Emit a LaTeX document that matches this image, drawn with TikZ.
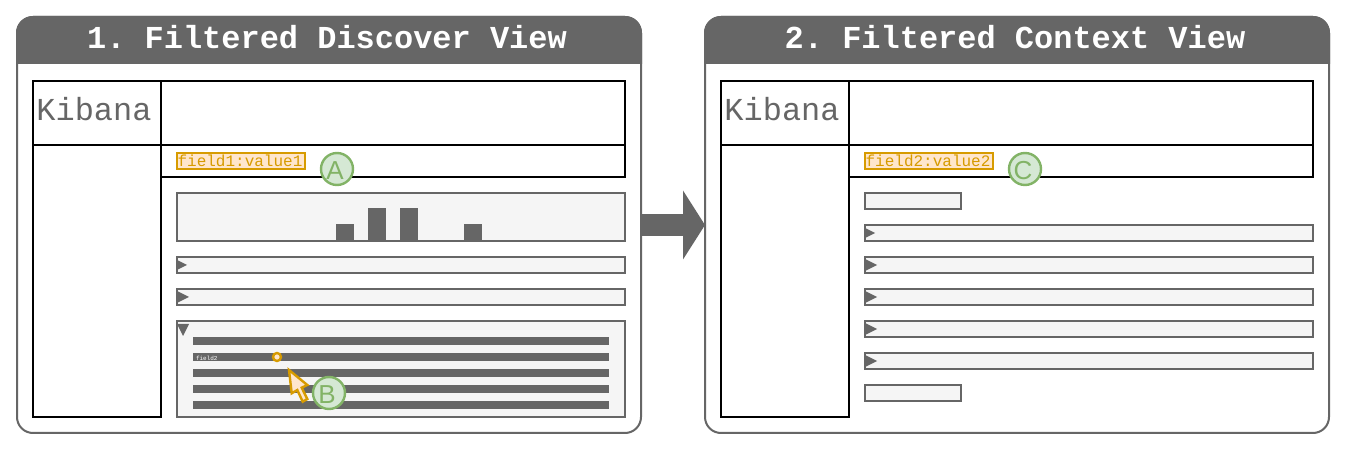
\documentclass[tikz,border=0pt]{standalone}
\usepackage{fontspec}
\setmonofont{Liberation Mono}
\setsansfont{Liberation Sans}
\usetikzlibrary{arrows.meta}
\definecolor{darkgray}{HTML}{666666}
\definecolor{lightgray}{HTML}{F5F5F5}
\definecolor{chipline}{HTML}{D79B00}
\definecolor{chipfill}{HTML}{FFE6CC}
\definecolor{markline}{HTML}{82B366}
\definecolor{markfill}{HTML}{D5E8D4}
\tikzset{
  every node/.style={inner sep=0pt,outer sep=0pt},
  panel/.style={draw=darkgray,fill=white,line width=2bp,rounded corners=16bp,minimum width=624bp,minimum height=416bp},
  header/.style={fill=darkgray,draw=darkgray,line width=2bp},
  title/.style={text=white,font=\fontsize{32.1}{38}\selectfont\ttfamily\bfseries},
  frame/.style={draw=black,line width=2bp},
  logo/.style={text=darkgray,font=\fontsize{32.1}{38}\selectfont\ttfamily},
  chip/.style={draw=chipline,fill=chipfill,line width=2.4bp,minimum width=128bp,minimum height=16bp},
  chiptext/.style={text=chipline,font=\fontsize{16.06}{18}\selectfont\ttfamily,xshift=-1bp},
  marker/.style={circle,draw=markline,fill=markfill,line width=2.4bp,minimum size=32bp},
  marktext/.style={text=markline,font=\fontsize{26.1}{30}\selectfont\sffamily,xshift=-2bp,yshift=-1.5bp},
  row/.style={draw=darkgray,fill=lightgray,line width=2.4bp,minimum width=448bp,minimum height=16bp},
  shortrow/.style={row,minimum width=96bp},
  histbar/.style={fill=darkgray,anchor=south,minimum width=18bp},
  stripe/.style={fill=darkgray,minimum width=416bp,minimum height=8bp},
  toggle/.style={fill=darkgray},
}
\begin{document}
\begin{tikzpicture}[>={Triangle[length=22bp,width=68bp]}]
        \useasboundingbox (0bp,0bp) rectangle (1346bp,450bp);
        %% first view
        \node (view1) at (329bp,225bp) [panel] {};
        \draw [header,rounded corners=16bp] (17bp,387bp) -- (17bp,433bp) -- (641bp,433bp) [sharp corners] -- (641bp,387bp) -- cycle;
        \node (title1) at (327bp,413bp) [title] {1. Filtered Discover View};
        \node (logo1) at (97bp,337bp) [frame,minimum width=128bp,minimum height=64bp] {};
        \node (kibana1) at (94bp,341bp) [logo] {Kibana};
        \node (top1) at (393bp,337bp) [frame,minimum width=464bp,minimum height=64bp] {};
        \node (search1) at (393bp,289bp) [frame,minimum width=464bp,minimum height=32bp] {};
        \node (side1) at (97bp,169bp) [frame,minimum width=128bp,minimum height=272bp] {};
        \node (chip1) at (241bp,289bp) [chip,label={[chiptext]center:field1:value1}] {};
        \node (hist) at (401bp,233bp) [row,minimum height=48bp] {};
        \node (bar1) at (345bp,209bp) [histbar,minimum height=17bp] {};
        \node (bar2) at (377bp,209bp) [histbar,minimum height=33bp] {};
        \node (bar3) at (409bp,209bp) [histbar,minimum height=33bp] {};
        \node (bar4) at (473bp,209bp) [histbar,minimum height=17bp] {};
        \node (row1) at (401bp,185bp) [row] {};
        \node (row2) at (401bp,153bp) [row] {};
        \node (open) at (401bp,81bp) [row,minimum height=96bp] {};
        \fill [toggle] (177bp,190bp) -- (177bp,180bp) -- (187bp,185bp) -- cycle;
        \fill [toggle] (177bp,159bp) -- (177bp,147bp) -- (189bp,153bp) -- cycle;
        \fill [toggle] (177bp,126bp) -- (189bp,126bp) -- (183bp,114bp) -- cycle;
        \node (line1) at (401bp,109bp) [stripe] {};
        \node (line2) at (401bp,93bp) [stripe] {};
        \node (line3) at (401bp,77bp) [stripe] {};
        \node (line4) at (401bp,61bp) [stripe] {};
        \node (line5) at (401bp,45bp) [stripe] {};
        \node (name) at (196bp,92bp) [anchor=west,text=white,font=\fontsize{6}{7}\selectfont\ttfamily] {field2};
        \node (dot) at (277bp,93bp) [circle,draw=chipline,fill=chipfill,line width=2.4bp,minimum size=8bp] {};
        \draw [draw=chipline,fill=chipfill,line width=2.4bp] (289bp,80bp) -- (291.7bp,56.7bp) -- (297.3bp,60bp) -- (302.7bp,48.3bp) -- (307.3bp,51bp) -- (301.7bp,62.3bp) -- (307.3bp,65bp) -- cycle;
        \node (a) at (337bp,281bp) [marker,label={[marktext]center:A}] {};
        \node (b) at (329bp,57bp) [marker,label={[marktext]center:B}] {};
        %% second view
        \node (view2) at (1017bp,225bp) [panel] {};
        \draw [header,rounded corners=16bp] (705bp,387bp) -- (705bp,433bp) -- (1329bp,433bp) [sharp corners] -- (1329bp,387bp) -- cycle;
        \node (title2) at (1015bp,413bp) [title] {2. Filtered Context View};
        \node (logo2) at (785bp,337bp) [frame,minimum width=128bp,minimum height=64bp] {};
        \node (kibana2) at (782bp,341bp) [logo] {Kibana};
        \node (top2) at (1081bp,337bp) [frame,minimum width=464bp,minimum height=64bp] {};
        \node (search2) at (1081bp,289bp) [frame,minimum width=464bp,minimum height=32bp] {};
        \node (side2) at (785bp,169bp) [frame,minimum width=128bp,minimum height=272bp] {};
        \node (chip2) at (929bp,289bp) [chip,label={[chiptext]center:field2:value2}] {};
        \node (short1) at (913bp,249bp) [shortrow] {};
        \node (row3) at (1089bp,217bp) [row] {};
        \node (row4) at (1089bp,185bp) [row] {};
        \node (row5) at (1089bp,153bp) [row] {};
        \node (row6) at (1089bp,121bp) [row] {};
        \node (row7) at (1089bp,89bp) [row] {};
        \node (short2) at (913bp,57bp) [shortrow] {};
        \fill [toggle] (865bp,222bp) -- (865bp,212bp) -- (875bp,217bp) -- cycle;
        \fill [toggle] (865bp,191bp) -- (865bp,179bp) -- (877bp,185bp) -- cycle;
        \fill [toggle] (865bp,159bp) -- (865bp,147bp) -- (877bp,153bp) -- cycle;
        \fill [toggle] (865bp,127bp) -- (865bp,115bp) -- (877bp,121bp) -- cycle;
        \fill [toggle] (865bp,95bp) -- (865bp,83bp) -- (877bp,89bp) -- cycle;
        \node (c) at (1025bp,281bp) [marker,label={[marktext]center:C}] {};
        %% between the views
        \draw [->,draw=darkgray,line width=22bp] (view1) -- (view2);
\end{tikzpicture}
\end{document}
